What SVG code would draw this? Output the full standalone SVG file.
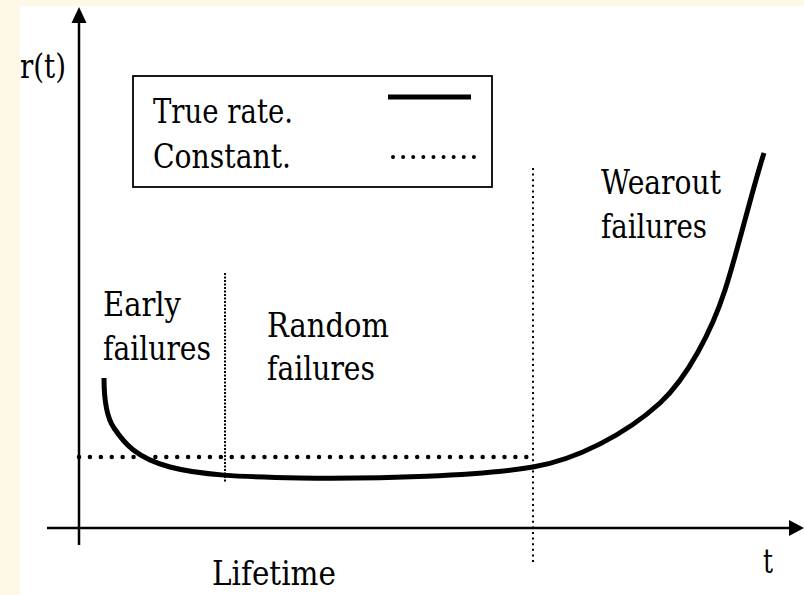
<svg xmlns="http://www.w3.org/2000/svg" width="804" height="595" viewBox="0 0 804 595">
<style>
.t{font-family:'DejaVu Serif','Liberation Serif',serif;font-size:33px;fill:#000}
.axis{stroke:#000;stroke-width:2.5;fill:none}
.curve{stroke:#000;stroke-width:5;fill:none;stroke-linecap:butt}
.const{stroke:#000;stroke-width:4.5;stroke-linecap:round;stroke-dasharray:0.01 10.9;fill:none}
.div{stroke:#000;stroke-width:2;fill:none}
</style>
<rect x="0" y="0" width="804" height="595" fill="#FEF9E7"/>
<rect x="20" y="6" width="784" height="589" fill="#FFFFFF"/>
<g id="axes">
<line class="axis" x1="79" y1="20" x2="79" y2="545"/>
<polygon points="79,7 71.5,23 86.5,23" fill="#000"/>
<line class="axis" x1="47" y1="528" x2="791" y2="528"/>
<polygon points="804,528 789,520 789,536" fill="#000"/>
<text class="t" x="20" y="78" textLength="46" lengthAdjust="spacingAndGlyphs">r(t)</text>
<text class="t" x="763" y="573" textLength="10" lengthAdjust="spacingAndGlyphs">t</text>
<text class="t" x="212" y="585" textLength="124" lengthAdjust="spacingAndGlyphs">Lifetime</text>
</g>
<g id="legend">
<rect x="133" y="76" width="359" height="111" fill="#FFFFFF" stroke="#000" stroke-width="1.8"/>
<text class="t" x="153" y="123" textLength="140" lengthAdjust="spacingAndGlyphs">True rate.</text>
<text class="t" x="153" y="168" textLength="138" lengthAdjust="spacingAndGlyphs">Constant.</text>
<line x1="388" y1="97" x2="471" y2="97" stroke="#000" stroke-width="5"/>
<line x1="393" y1="157" x2="475" y2="157" stroke="#000" stroke-width="4" stroke-linecap="round" stroke-dasharray="0.01 10.1"/>
</g>
<g id="dividers">
<line class="div" x1="225" y1="273" x2="225" y2="482" stroke-dasharray="2 1.5"/>
<line class="div" x1="533" y1="168" x2="533" y2="562" stroke-dasharray="2 3.6"/>
</g>
<g id="constant-rate">
<line class="const" x1="79" y1="457" x2="528" y2="457"/>
</g>
<g id="true-rate">
<path class="curve" d="M104,378 C104,402 107,418 114,428 C124,443 136,458 170,467 C200,475 240,477 300,478 C380,479 480,476 533,467 C575,460 625,435 660,403 C688,377 712,330 725,290 C738,250 752,190 764,153"/>
</g>
<g id="labels">
<text class="t" x="103" y="316" textLength="78" lengthAdjust="spacingAndGlyphs">Early</text>
<text class="t" x="103" y="360" textLength="108" lengthAdjust="spacingAndGlyphs">failures</text>
<text class="t" x="267" y="337" textLength="122" lengthAdjust="spacingAndGlyphs">Random</text>
<text class="t" x="267" y="380" textLength="108" lengthAdjust="spacingAndGlyphs">failures</text>
<text class="t" x="601" y="194" textLength="120" lengthAdjust="spacingAndGlyphs">Wearout</text>
<text class="t" x="601" y="238" textLength="106" lengthAdjust="spacingAndGlyphs">failures</text>
</g>
</svg>
